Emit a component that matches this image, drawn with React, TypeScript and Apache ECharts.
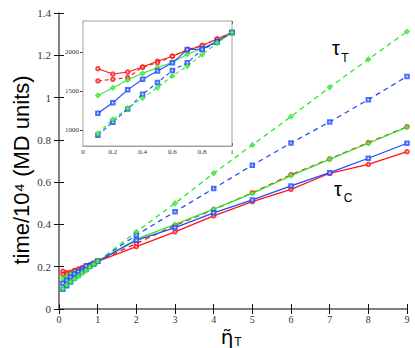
import React, { useEffect, useRef } from "react";
import * as echarts from "echarts";

// eta_T values (x)
const etaT = [0.1, 0.2, 0.3, 0.4, 0.5, 0.6, 0.7, 0.8, 0.9, 1, 2, 3, 4, 5, 6, 7, 8, 9];
// times in units of 10^4 MD units
const redSolid = [0.1789, 0.1721, 0.1747, 0.181, 0.1886, 0.1949, 0.2025, 0.2084, 0.2169, 0.2253, 0.295, 0.365, 0.44, 0.508, 0.566, 0.642, 0.684, 0.744];
const redDashed = [0.1633, 0.1654, 0.1675, 0.181, 0.1865, 0.1949, 0.2034, 0.2089, 0.2169, 0.2253, 0.31, 0.395, 0.47, 0.55, 0.635, 0.71, 0.787, 0.862];
const greenSolid = [0.1447, 0.1544, 0.1645, 0.173, 0.1802, 0.1873, 0.1975, 0.2051, 0.2139, 0.2253, 0.33, 0.4, 0.472, 0.547, 0.631, 0.708, 0.784, 0.86];
const blueSolid = [0.1219, 0.1354, 0.1519, 0.1654, 0.1759, 0.1865, 0.2034, 0.2042, 0.2139, 0.2253, 0.325, 0.385, 0.455, 0.516, 0.582, 0.645, 0.713, 0.784];
const blueDashed = [0.0937, 0.1105, 0.1274, 0.1464, 0.1612, 0.1768, 0.1865, 0.2034, 0.2127, 0.2253, 0.35, 0.46, 0.57, 0.68, 0.785, 0.885, 0.99, 1.1];
const greenDashed = [0.0962, 0.1139, 0.1283, 0.1413, 0.1548, 0.1696, 0.1823, 0.197, 0.2118, 0.2253, 0.365, 0.5, 0.642, 0.776, 0.91, 1.049, 1.181, 1.312];

const insetYTicks = [1000, 1500, 2000];

const RED = "#ff1414";
const GREEN = "#2ee62e";
const BLUE = "#1f4bff";

const seriesDefs = [
  { name: "redSolid", data: redSolid, color: RED, dashed: false, symbol: "emptyCircle" },
  { name: "redDashed", data: redDashed, color: RED, dashed: true, symbol: "emptyCircle" },
  { name: "greenSolid", data: greenSolid, color: GREEN, dashed: false, symbol: "emptyDiamond" },
  { name: "blueSolid", data: blueSolid, color: BLUE, dashed: false, symbol: "emptyRect" },
  { name: "blueDashed", data: blueDashed, color: BLUE, dashed: true, symbol: "emptyRect" },
  { name: "greenDashed", data: greenDashed, color: GREEN, dashed: true, symbol: "emptyDiamond" },
];

const SERIF = "Liberation Serif";
const SANS = "Liberation Sans";

export default function App() {
  const ref = useRef<HTMLDivElement>(null);
  useEffect(() => {
    document.body.style.margin = "0";
    const chart = echarts.init(ref.current!, null, { renderer: "svg" });
    const frame = "#7a7a7a";
    const insetFrame = "#a0a0a0";

    const mainSeries = seriesDefs.map((s) => ({
      type: "line",
      name: s.name,
      xAxisIndex: 0,
      yAxisIndex: 0,
      data: etaT.map((x, i) => [x, s.data[i]]),
      symbol: s.symbol,
      symbolSize: 3.5,
      showSymbol: true,
      lineStyle: { color: s.color, width: 1.3, type: s.dashed ? [5, 4] : "solid" },
      itemStyle: { color: s.color, borderWidth: 0.6, opacity: 0.8 },
      z: 3,
    }));
    const insetSeries = seriesDefs.map((s) => ({
      type: "line",
      name: s.name + "Inset",
      xAxisIndex: 2,
      yAxisIndex: 2,
      data: etaT.filter((x) => x <= 1).map((x, i) => [x, s.data[i] * 10000]),
      symbol: s.symbol,
      symbolSize: 3.5,
      showSymbol: true,
      lineStyle: { color: s.color, width: 1.1, type: s.dashed ? [4, 3] : "solid" },
      itemStyle: { color: s.color, borderWidth: 0.6, opacity: 0.8 },
      z: 5,
    }));

    const mainLabel = { fontFamily: SERIF, fontSize: 10, color: "#333" };
    const insetLabel = { fontFamily: SERIF, fontSize: 7, color: "#333" };

    chart.setOption({
      animation: false,
      backgroundColor: "#fff",
      textStyle: { fontFamily: SERIF },
      grid: [
        { left: 59, top: 13, right: 8, bottom: 39, containLabel: false },
        { left: 83, top: 21, width: 149, height: 125, show: true, backgroundColor: "#fff", borderColor: insetFrame, borderWidth: 1, z: 4 },
      ],
      xAxis: [
        {
          type: "value", gridIndex: 0, min: 0, max: 9, interval: 1, position: "bottom",
          axisLine: { lineStyle: { color: frame, width: 1.5 } },
          axisTick: { inside: true, length: 5, lineStyle: { color: "#111" } },
          axisLabel: { ...mainLabel, margin: 5 },
          splitLine: { show: false },
        },
        {
          type: "value", gridIndex: 0, min: 0, max: 9, interval: 1, position: "top",
          axisLine: { lineStyle: { color: frame, width: 1.5 } },
          axisTick: { inside: true, length: 5, lineStyle: { color: "#111" } },
          axisLabel: { show: false },
          splitLine: { show: false },
        },
        {
          type: "value", gridIndex: 1, min: 0, max: 1, interval: 0.2, position: "bottom",
          axisLine: { lineStyle: { color: insetFrame, width: 1 } },
          axisTick: { inside: true, length: 3, lineStyle: { color: "#444" } },
          axisLabel: { ...insetLabel, margin: 2 },
          splitLine: { show: false },
        },
        {
          type: "value", gridIndex: 1, min: 0, max: 1, interval: 0.2, position: "top",
          axisLine: { lineStyle: { color: insetFrame, width: 1 } },
          axisTick: { inside: true, length: 3, lineStyle: { color: "#444" } },
          axisLabel: { show: false },
          splitLine: { show: false },
        },
      ],
      yAxis: [
        {
          type: "value", gridIndex: 0, min: 0, max: 1.4, interval: 0.2, position: "left",
          axisLine: { show: true, lineStyle: { color: frame, width: 1.5 } },
          axisTick: { show: true, inside: true, length: 5, lineStyle: { color: "#111" } },
          axisLabel: { ...mainLabel, fontSize: 11, margin: 8 },
          splitLine: { show: false },
        },
        {
          type: "value", gridIndex: 0, min: 0, max: 1.4, interval: 0.2, position: "right",
          axisLine: { show: true, lineStyle: { color: frame, width: 1.5 } },
          axisTick: { show: true, inside: true, length: 5, lineStyle: { color: "#111" } },
          axisLabel: { show: false },
          splitLine: { show: false },
        },
        {
          type: "value", gridIndex: 1, min: 800, max: 2400, position: "left",
          axisLine: { show: true, lineStyle: { color: insetFrame, width: 1 } },
          axisTick: { show: true, inside: true, length: 3, lineStyle: { color: "#444" }, customValues: insetYTicks },
          axisLabel: { ...insetLabel, margin: 4, customValues: insetYTicks, formatter: (v: number) => String(v) },
          splitLine: { show: false },
        },
        {
          type: "value", gridIndex: 1, min: 800, max: 2400, position: "right",
          axisLine: { show: true, lineStyle: { color: insetFrame, width: 1 } },
          axisTick: { show: true, inside: true, length: 3, lineStyle: { color: "#444" }, customValues: insetYTicks },
          axisLabel: { show: false },
          splitLine: { show: false },
        },
      ],
      series: [...mainSeries, ...insetSeries],
      graphic: [
        {
          type: "text", x: 21, y: 170, rotation: Math.PI / 2,
          style: { text: "time/10⁴ (MD units)", font: `22px '${SANS}'`, fill: "#000", align: "center", verticalAlign: "middle", textAlign: "center", textVerticalAlign: "middle" },
        },
        {
          type: "text", x: 227, y: 337,
          style: { text: "η\u0303", font: `20px 'DejaVu Sans'`, fill: "#000", align: "center", verticalAlign: "middle", textAlign: "center", textVerticalAlign: "middle" },
        },
        {
          type: "text", x: 238, y: 342,
          style: { text: "T", font: `12px '${SANS}'`, fill: "#000", align: "center", verticalAlign: "middle", textAlign: "center", textVerticalAlign: "middle" },
        },
        {
          type: "text", x: 336, y: 48,
          style: { text: "τ", font: `20px '${SANS}'`, fill: "#000", align: "center", verticalAlign: "middle", textAlign: "center", textVerticalAlign: "middle" },
        },
        {
          type: "text", x: 345, y: 58,
          style: { text: "T", font: `12px '${SANS}'`, fill: "#000", align: "center", verticalAlign: "middle", textAlign: "center", textVerticalAlign: "middle" },
        },
        {
          type: "text", x: 338, y: 189,
          style: { text: "τ", font: `20px '${SANS}'`, fill: "#000", align: "center", verticalAlign: "middle", textAlign: "center", textVerticalAlign: "middle" },
        },
        {
          type: "text", x: 348, y: 198,
          style: { text: "C", font: `12px '${SANS}'`, fill: "#000", align: "center", verticalAlign: "middle", textAlign: "center", textVerticalAlign: "middle" },
        },
      ],
    });
    return () => chart.dispose();
  }, []);
  return <div ref={ref} style={{ width: 415, height: 348 }} />;
}
